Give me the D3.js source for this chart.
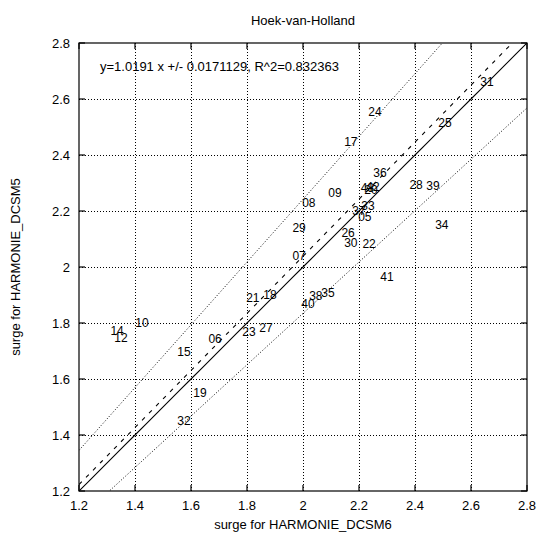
<!DOCTYPE html>
<html>
<head>
<meta charset="utf-8">
<script src="https://cdn.jsdelivr.net/npm/d3@7"></script>
<style>
  html, body { margin: 0; padding: 0; background: #fff; }
  svg { display: block; font-family: "Liberation Sans", Arial, sans-serif; }
</style>
</head>
<body>
<svg id="chart" width="540" height="536"></svg>
<script>
// Case numbers and surge maxima for the two model runs
const caseLabels = ["31","25","24","17","36","43","42","20","28","39","09","08","33","37","05","29","34","26","30","22","07","41","35","38","40","21","18","10","14","12","23","27","06","15","19","32"];
const surgeDCSM6 = [2.657,2.507,2.257,2.171,2.275,2.230,2.250,2.243,2.404,2.464,2.114,2.021,2.232,2.200,2.221,1.986,2.496,2.161,2.171,2.236,1.986,2.300,2.089,2.046,2.018,1.821,1.882,1.425,1.336,1.350,1.807,1.868,1.686,1.575,1.632,1.575];
const surgeDCSM5 = [2.661,2.514,2.554,2.446,2.336,2.282,2.286,2.275,2.293,2.289,2.264,2.229,2.218,2.200,2.179,2.139,2.150,2.121,2.086,2.082,2.039,1.964,1.907,1.896,1.868,1.889,1.900,1.800,1.771,1.746,1.768,1.782,1.743,1.696,1.550,1.450];

// Regression summary
const fitSlope = 1.0191;
const bandFactors = [1.1, 0.9];
const fitText = "y=1.0191 x +/- 0.0171129, R^2=0.832363";

const tickValues = [1.2, 1.4, 1.6, 1.8, 2.0, 2.2, 2.4, 2.6, 2.8];
const domain = [1.2, 2.8];

const svg = d3.select("#chart");
const m = { left: 79, right: 527, top: 43, bottom: 491 };

const x = d3.scaleLinear().domain(domain).range([m.left, m.right]);
const y = d3.scaleLinear().domain(domain).range([m.bottom, m.top]);
const fmt = d => d3.format("")(+d.toFixed(1));

svg.append("defs").append("clipPath").attr("id", "plotclip")
  .append("rect").attr("x", m.left).attr("y", m.top)
  .attr("width", m.right - m.left).attr("height", m.bottom - m.top);

// Grid
const grid = svg.append("g").attr("stroke", "#000").attr("stroke-width", 1)
  .attr("stroke-dasharray", "1,2").attr("fill", "none");
tickValues.slice(1, -1).forEach(v => {
  grid.append("line").attr("x1", x(v) + 0.5).attr("x2", x(v) + 0.5).attr("y1", m.top).attr("y2", m.bottom);
  grid.append("line").attr("y1", y(v) + 0.5).attr("y2", y(v) + 0.5).attr("x1", m.left).attr("x2", m.right);
});

// Reference lines
const xs = d3.range(0, 41).map(i => domain[0] + (domain[1] - domain[0]) * i / 40);
const lineGen = f => d3.line().x(d => x(d)).y(d => y(f(d)))(xs);
const lines = svg.append("g").attr("clip-path", "url(#plotclip)").attr("fill", "none").attr("stroke", "#000");
lines.append("path").attr("d", lineGen(d => d)).attr("stroke-width", 1.1);
lines.append("path").attr("d", lineGen(d => fitSlope * d)).attr("stroke-width", 1.1).attr("stroke-dasharray", "4,6");
bandFactors.forEach(f => {
  lines.append("path").attr("d", lineGen(d => fitSlope * f * d)).attr("stroke-width", 1).attr("stroke-dasharray", "1,2");
});

// Point labels
svg.append("g").attr("font-size", 12).attr("text-anchor", "middle").attr("fill", "#000")
  .selectAll("text").data(caseLabels).join("text")
  .attr("x", (d, i) => x(surgeDCSM6[i]))
  .attr("y", (d, i) => y(surgeDCSM5[i]))
  .attr("dy", "0.35em")
  .text(d => d);

// Border and inward ticks on all sides
svg.append("rect").attr("x", m.left).attr("y", m.top)
  .attr("width", m.right - m.left).attr("height", m.bottom - m.top)
  .attr("fill", "none").attr("stroke", "#000").attr("stroke-width", 1.2);
const ticks = svg.append("g").attr("stroke", "#000").attr("stroke-width", 1.2);
const tl = 6;
tickValues.forEach(v => {
  ticks.append("line").attr("x1", x(v)).attr("x2", x(v)).attr("y1", m.bottom).attr("y2", m.bottom - tl);
  ticks.append("line").attr("x1", x(v)).attr("x2", x(v)).attr("y1", m.top).attr("y2", m.top + tl);
  ticks.append("line").attr("y1", y(v)).attr("y2", y(v)).attr("x1", m.left).attr("x2", m.left + tl);
  ticks.append("line").attr("y1", y(v)).attr("y2", y(v)).attr("x1", m.right).attr("x2", m.right - tl);
});

// Tick labels
const lab = svg.append("g").attr("font-size", 13).attr("fill", "#000");
tickValues.forEach(v => {
  lab.append("text").attr("x", x(v)).attr("y", m.bottom + 14).attr("dy", "0.35em")
    .attr("text-anchor", "middle").text(fmt(v));
  lab.append("text").attr("x", m.left - 9).attr("y", y(v)).attr("dy", "0.35em")
    .attr("text-anchor", "end").text(fmt(v));
});

// Titles
svg.append("text").attr("x", (m.left + m.right) / 2).attr("y", 20).attr("dy", "0.35em")
  .attr("text-anchor", "middle").attr("font-size", 13).text("Hoek-van-Holland");
svg.append("text").attr("x", (m.left + m.right) / 2).attr("y", 524).attr("dy", "0.35em")
  .attr("text-anchor", "middle").attr("font-size", 13).text("surge for HARMONIE_DCSM6");
svg.append("text").attr("transform", `translate(15,${(m.top + m.bottom) / 2}) rotate(-90)`)
  .attr("dy", "0.35em").attr("text-anchor", "middle").attr("font-size", 13)
  .text("surge for HARMONIE_DCSM5");
svg.append("text").attr("x", 100).attr("y", 66).attr("dy", "0.35em")
  .attr("font-size", 13).text(fitText);
</script>
</body>
</html>
